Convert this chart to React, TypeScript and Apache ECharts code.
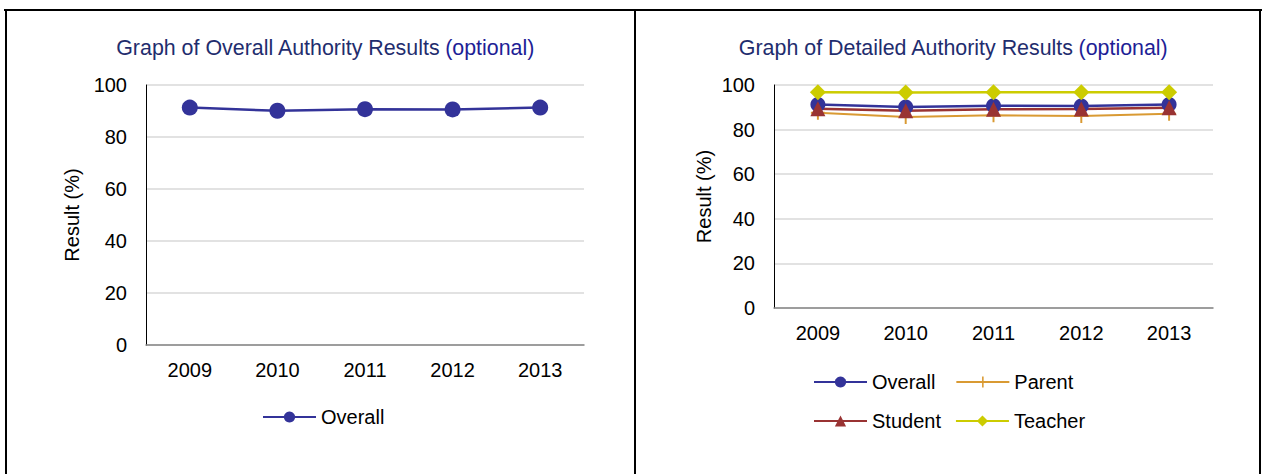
import { useEffect, useRef } from "react";
import * as echarts from "echarts";

// values
const years = ["2009", "2010", "2011", "2012", "2013"];
const overall = [91.3, 90.1, 90.7, 90.6, 91.3];
const parent = [87.6, 85.6, 86.4, 86.1, 87.1];
const student = [89.4, 88.5, 89.1, 89.2, 89.8];
const teacher = [96.7, 96.6, 96.7, 96.8, 96.7];

const yMin = 0;
const yMax = 100;
const yStep = 20;

const COLORS = {
  overall: "#333399",
  parent: "#D99A33",
  student: "#993333",
  teacher: "#CCCC00",
};

const FONT = "'Liberation Sans', Arial, sans-serif";
const PLUS = "path://M4.3,0H5.7V10H4.3ZM0,4.3H10V5.7H0Z";

function yAxis(gridIndex: number, nameGap: number) {
  return {
    type: "value" as const,
    gridIndex,
    min: yMin,
    max: yMax,
    interval: yStep,
    name: "Result (%)",
    nameLocation: "middle" as const,
    nameGap,
    nameTextStyle: { color: "#000", fontSize: 20, fontFamily: FONT },
    axisLine: { show: true, lineStyle: { color: "#000", width: 1 } },
    axisTick: { show: false },
    axisLabel: { color: "#000", fontSize: 20, fontFamily: FONT, margin: 19 },
    splitLine: { lineStyle: { color: "#D9D9D9", width: 1.5 } },
  };
}

function xAxis(gridIndex: number) {
  return {
    type: "category" as const,
    gridIndex,
    data: years,
    boundaryGap: true,
    axisLine: { lineStyle: { color: "#868686", width: 1.5 } },
    axisTick: { show: false },
    axisLabel: { color: "#000", fontSize: 20, fontFamily: FONT, margin: 15 },
    splitLine: { show: false },
  };
}

function titleText(text: string, x: number) {
  return {
    text: `{m|${text}} {o|(optional)}`,
    left: x,
    top: 32,
    textAlign: "center" as const,
    textStyle: {
      fontWeight: "normal" as const,
      rich: {
        m: { color: "#1F2D6E", fontSize: 21.4, fontFamily: FONT, fontWeight: "normal" as const },
        o: { color: "#1E1E96", fontSize: 21.4, fontFamily: FONT, fontWeight: "normal" as const },
      },
    },
  };
}

export default function App() {
  const ref = useRef<HTMLDivElement>(null);

  useEffect(() => {
    if (!ref.current) return;
    const chart = echarts.init(ref.current, null, { renderer: "svg" });

    const legendBase = {
      orient: "horizontal" as const,
      itemWidth: 53,
      itemHeight: 14,
      padding: 0,
      textStyle: { color: "#000", fontSize: 20, fontFamily: FONT },
    };

    chart.setOption({
      animation: false,
      backgroundColor: "#fff",
      title: [
        titleText("Graph of Overall Authority Results", 320),
        titleText("Graph of Detailed Authority Results", 948),
      ],
      grid: [
        { left: 146, top: 85, width: 438, height: 260 },
        { left: 774, top: 85, width: 439, height: 223 },
      ],
      xAxis: [xAxis(0), xAxis(1)],
      yAxis: [yAxis(0, 64), yAxis(1, 60)],
      legend: [
        { ...legendBase, itemGap: 10, left: 262, top: 407, data: ["Overall"] },
        { ...legendBase, itemGap: 20, left: 813, top: 372, data: ["Overall", "Parent"] },
        { ...legendBase, itemGap: 14, left: 813, top: 411, data: ["Student", "Teacher"] },
      ],
      graphic: [
        { type: "line", shape: { x1: 4, y1: 10, x2: 1262, y2: 10 }, style: { stroke: "#000", lineWidth: 2 } },
        { type: "line", shape: { x1: 6, y1: 9, x2: 6, y2: 474 }, style: { stroke: "#000", lineWidth: 2 } },
        { type: "line", shape: { x1: 635, y1: 9, x2: 635, y2: 474 }, style: { stroke: "#000", lineWidth: 2 } },
        { type: "line", shape: { x1: 1260, y1: 9, x2: 1260, y2: 474 }, style: { stroke: "#000", lineWidth: 2 } },
      ],
      series: [
        {
          name: "Overall",
          type: "line",
          xAxisIndex: 0,
          yAxisIndex: 0,
          data: overall,
          symbol: "circle",
          symbolSize: 16,
          itemStyle: { color: COLORS.overall },
          lineStyle: { color: COLORS.overall, width: 2.5 },
        },
        {
          name: "Overall",
          type: "line",
          xAxisIndex: 1,
          yAxisIndex: 1,
          data: overall,
          symbol: "circle",
          symbolSize: 15,
          itemStyle: { color: COLORS.overall },
          lineStyle: { color: COLORS.overall, width: 2.5 },
        },
        {
          name: "Parent",
          type: "line",
          xAxisIndex: 1,
          yAxisIndex: 1,
          data: parent,
          symbol: PLUS,
          symbolSize: 14,
          itemStyle: { color: COLORS.parent },
          lineStyle: { color: COLORS.parent, width: 2 },
        },
        {
          name: "Student",
          type: "line",
          xAxisIndex: 1,
          yAxisIndex: 1,
          data: student,
          symbol: "triangle",
          symbolSize: 15,
          itemStyle: { color: COLORS.student },
          lineStyle: { color: COLORS.student, width: 2.5 },
        },
        {
          name: "Teacher",
          type: "line",
          xAxisIndex: 1,
          yAxisIndex: 1,
          data: teacher,
          symbol: "diamond",
          symbolSize: 16,
          itemStyle: { color: COLORS.teacher },
          lineStyle: { color: COLORS.teacher, width: 2.5 },
        },
      ],
    });

    return () => chart.dispose();
  }, []);

  return (
    <div
      ref={ref}
      style={{ position: "absolute", left: 0, top: 0, width: 1264, height: 474 }}
    />
  );
}
